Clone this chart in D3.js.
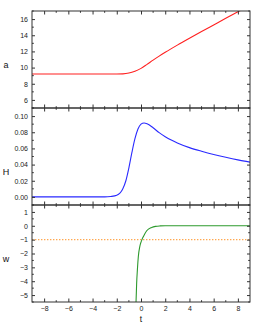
<!DOCTYPE html>
<html><head><meta charset="utf-8">
<script src="https://cdn.jsdelivr.net/npm/d3@7"></script>
<style>body{margin:0;background:#fff}svg{display:block}</style>
</head><body>
<script>
// ---- data ----
const aT = [-9,-3,-2,-1.5,-1,-0.5,0,0.5,1,1.5,2,3,4,5,6,7,8,9];
const aV = [9.2,9.2,9.2,9.22,9.32,9.55,9.9,10.4,10.92,11.42,11.89,12.78,13.63,14.46,15.28,16.1,16.9,17.68];
const hT = [-9,-3,-2.5,-2,-1.5,-1.25,-1,-0.75,-0.5,-0.25,0,0.25,0.5,1,1.5,2,2.5,3,4,5,6,7,8,9];
const hV = [0,0,0.0005,0.002,0.01,0.02,0.036,0.055,0.072,0.084,0.09,0.0915,0.0905,0.0855,0.0795,0.0745,0.0703,0.0668,0.061,0.0565,0.0525,0.049,0.0458,0.043];
const wT = [-0.45,-0.41,-0.36,-0.3,-0.22,-0.1,-0.03,0.08,0.19,0.47,0.88,1.2,1.57,2,3,5,7,9];
const wV = [-6,-5.48,-4.17,-3.2,-2.22,-1.5,-1.26,-1.0,-0.79,-0.36,-0.12,-0.04,-0.01,0,0,0,0,0];
const refT = [-9,9];
const refV = [-1,-1];
const xTicks = [-8,-6,-4,-2,0,2,4,6,8];
const aTicks = [6,8,10,12,14,16];
const hTicks = [0,0.02,0.04,0.06,0.08,0.10];
const wTicks = [-5,-4,-3,-2,-1,0,1];

const W=261,H=325;
const L=32,R=250;
const svg=d3.select("body").append("svg").attr("width",W).attr("height",H);
svg.append("rect").attr("width",W).attr("height",H).attr("fill","#fff");
const x=d3.scaleLinear().domain([-9,9]).range([L,R]);
const FONT="Liberation Sans, Arial, sans-serif";

const panels=[
 {top:11,bot:108,dom:[5,17],ticks:aTicks,minor:d3.range(5,18,1),fmt:d3.format("d"),label:"a",ly:65,
  series:[{t:aT,v:aV,color:"#ff2020",dash:null,w:1.1}]},
 {top:108,bot:205,dom:[-0.01,0.11],ticks:hTicks,minor:d3.range(-0.01,0.111,0.01),fmt:d3.format(".2f"),label:"H",ly:172,
  series:[{t:hT,v:hV,color:"#2a2aff",dash:null,w:1.1}]},
 {top:205,bot:302,dom:[-5.5,1.5],ticks:wTicks,minor:d3.range(-5.5,1.51,0.5),fmt:d3.format("d"),label:"w",ly:259,
  series:[{t:refT,v:refV,color:"#ffa850",dash:"1.4,1.6",w:1.2},{t:wT,v:wV,color:"#2e9a2e",dash:null,w:1.1}]}
];
const xMinor=d3.range(-9,9.01,1);
const axisCol="#333";

panels.forEach((p,i)=>{
  const y=d3.scaleLinear().domain(p.dom).range([p.bot,p.top]);
  const g=svg.append("g");
  const cid="clip"+i;
  svg.append("clipPath").attr("id",cid).append("rect").attr("x",L).attr("y",p.top).attr("width",R-L).attr("height",p.bot-p.top);
  p.series.forEach(s=>{
    const pts=s.t.map((t,k)=>[t,s.v[k]]);
    g.append("path").attr("clip-path",`url(#${cid})`)
      .attr("d",d3.line().x(d=>x(d[0])).y(d=>y(d[1])).curve(d3.curveMonotoneX)(pts))
      .attr("fill","none").attr("stroke",s.color).attr("stroke-width",s.w)
      .attr("stroke-dasharray",s.dash);
  });
  const yl=d3.axisLeft(y).tickValues(p.ticks).tickFormat(p.fmt).tickSize(-3).tickPadding(4);
  const gl=g.append("g").attr("transform",`translate(${L},0)`).call(yl);
  const yr=d3.axisRight(y).tickValues(p.ticks).tickFormat("").tickSize(-3);
  const gr=g.append("g").attr("transform",`translate(${R},0)`).call(yr);
  [gl,gr].forEach(a=>{a.select(".domain").remove();a.selectAll("line").attr("stroke",axisCol);});
  gl.selectAll("text").attr("font-family",FONT).attr("font-size",7).attr("fill","#222");
  const mn=p.minor.filter(v=>!p.ticks.some(t=>Math.abs(t-v)<1e-9));
  g.append("g").selectAll("line").data(mn).join("line")
    .attr("x1",L).attr("x2",L+1.8).attr("y1",d=>y(d)).attr("y2",d=>y(d)).attr("stroke",axisCol);
  g.append("g").selectAll("line").data(mn).join("line")
    .attr("x1",R).attr("x2",R-1.8).attr("y1",d=>y(d)).attr("y2",d=>y(d)).attr("stroke",axisCol);
  const xb=d3.axisBottom(x).tickValues(xTicks).tickFormat(i===2?d3.format("d"):"").tickSize(-3.5).tickPadding(4.5);
  const gb=g.append("g").attr("transform",`translate(0,${p.bot})`).call(xb);
  const xt=d3.axisTop(x).tickValues(xTicks).tickFormat("").tickSize(-3.5);
  const gt=g.append("g").attr("transform",`translate(0,${p.top})`).call(xt);
  [gb,gt].forEach(a=>{a.select(".domain").remove();a.selectAll("line").attr("stroke",axisCol);});
  gb.selectAll("text").attr("font-family",FONT).attr("font-size",7).attr("fill","#222");
  const xm=xMinor.filter(v=>!xTicks.includes(v)&&v>-9&&v<9);
  g.append("g").selectAll("line").data(xm).join("line")
    .attr("x1",d=>x(d)).attr("x2",d=>x(d)).attr("y1",p.bot).attr("y2",p.bot-1.8).attr("stroke",axisCol);
  g.append("g").selectAll("line").data(xm).join("line")
    .attr("x1",d=>x(d)).attr("x2",d=>x(d)).attr("y1",p.top).attr("y2",p.top+1.8).attr("stroke",axisCol);
  g.append("rect").attr("x",L).attr("y",p.top).attr("width",R-L).attr("height",p.bot-p.top)
    .attr("fill","none").attr("stroke",axisCol).attr("stroke-width",1);
  svg.append("text").attr("x",6).attr("y",p.ly).attr("dy","0.35em").attr("text-anchor","middle")
    .attr("font-family",FONT).attr("font-size",9).attr("fill","#111").text(p.label);
});
svg.append("text").attr("x",141).attr("y",319).attr("dy","0.35em").attr("text-anchor","middle")
  .attr("font-family",FONT).attr("font-size",8.5).attr("fill","#111").text("t");
</script>
</body></html>
